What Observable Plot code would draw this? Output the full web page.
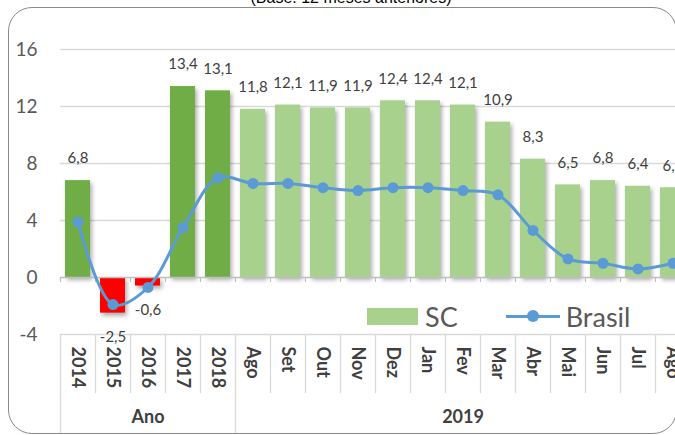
<!DOCTYPE html>
<html>
<head>
<meta charset="utf-8">
<script src="https://cdn.jsdelivr.net/npm/d3@7"></script>
<script src="https://cdn.jsdelivr.net/npm/@observablehq/plot@0.6"></script>
<style>
  body { margin: 0; background: #fff; }
  #wrap { position: relative; width: 675px; height: 435px; overflow: hidden; font-family: Lato, "Open Sans", sans-serif; }
  #frame { position: absolute; left: 8px; top: 7px; width: 669px; height: 427px; border: 1.4px solid #8a8a8a; border-radius: 24px; box-sizing: border-box; }
  #title { position: absolute; left: 0; width: 702px; top: -10px; text-align: center; font-family: "Liberation Sans", Arial, sans-serif; font-size: 16px; line-height: 16px; color: #000; white-space: nowrap; }
  #chart { position: absolute; left: 0; top: 0; }
  #chart svg { overflow: visible; }
  .bars rect { filter: drop-shadow(2px 3px 2px rgba(0,0,0,0.32)); }
  #legend { position: absolute; left: 367px; top: 299px; height: 34px; display: flex; align-items: center; font-family: Lato, sans-serif; font-size: 27px; color: #595959; }
  .sw { width: 51px; height: 17px; background: #A9D18E; margin-right: 7px; }
  .ln { position: relative; width: 54px; height: 3px; background: #5B9BD5; margin-left: 48px; margin-right: 6px; }
  .ln::after { content: ""; position: absolute; left: 21px; top: -4.5px; width: 12px; height: 12px; border-radius: 50%; background: #5B9BD5; }
</style>
</head>
<body>
<div id="wrap">
  <div id="frame"></div>
  <div id="title">(Base: 12 meses anteriores)</div>
  <div id="chart"></div>
  <div id="legend"><div class="sw"></div><span>SC</span><div class="ln"></div><span>Brasil</span></div>
</div>
<script>
// ---- data ----
const periods = ["2014","2015","2016","2017","2018","Ago/18","Set/18","Out/18","Nov/18","Dez/18","Jan/19","Fev/19","Mar/19","Abr/19","Mai/19","Jun/19","Jul/19","Ago/19"];
const tickLabels = ["2014","2015","2016","2017","2018","Ago","Set","Out","Nov","Dez","Jan","Fev","Mar","Abr","Mai","Jun","Jul","Ago"];
const groups = ["Ano","Ano","Ano","Ano","Ano","2019","2019","2019","2019","2019","2019","2019","2019","2019","2019","2019","2019","2019"];
const scValues = [6.8,-2.5,-0.6,13.4,13.1,11.8,12.1,11.9,11.9,12.4,12.4,12.1,10.9,8.3,6.5,6.8,6.4,6.3];
const brasilValues = [3.9,-1.9,-0.7,3.5,7.0,6.6,6.6,6.3,6.1,6.3,6.3,6.1,5.8,3.3,1.3,1.0,0.6,1.0];
const yTicks = [-4,0,4,8,12,16];

// ---- build ----
const data = periods.map((p, i) => ({period: p, label: tickLabels[i], group: groups[i], sc: scValues[i], brasil: brasilValues[i]}));
const fmt = v => v.toFixed(1).replace(".", ",");
const barColor = d => d.group === "Ano" ? (d.sc < 0 ? "#FF0000" : "#70AD47") : "#A9D18E";
const groupNames = [...new Set(groups)];
const groupLabels = groupNames.map(g => {
  const m = data.filter(d => d.group === g);
  return {group: g, period: m[Math.floor(m.length / 2)].period};
});
const groupStarts = data.filter((d, i) => i === 0 || groups[i] !== groups[i - 1]);
const innerStarts = data.filter((d, i) => i !== 0 && groups[i] === groups[i - 1]);
const yMin = yTicks[0];

const step = 35;
const chart = Plot.plot({
  width: 675,
  height: 435,
  marginTop: 0, marginRight: 0, marginBottom: 2, marginLeft: 60,
  x: {type: "band", domain: periods, range: [60, 60 + step * periods.length], paddingInner: 0.28, paddingOuter: 0.14, axis: null},
  y: {domain: [yMin, 16], range: [334, 49], axis: null},
  color: {type: "identity"},
  style: {fontFamily: "Lato, sans-serif", background: "transparent", color: "#404040"},
  marks: [
    Plot.ruleY(yTicks.filter(t => t !== 0), {stroke: "#d9d9d9", strokeWidth: 1.3}),
    Plot.ruleX(groupStarts, {x: "period", dx: -step / 2, insetTop: 334, stroke: "#d9d9d9", strokeWidth: 1.3}),
    Plot.ruleX(innerStarts, {x: "period", dx: -step / 2, insetTop: 334, insetBottom: 40, stroke: "#d9d9d9", strokeWidth: 1.3}),
    Plot.barY(data, {x: "period", y: "sc", fill: barColor, className: "bars"}),
    Plot.ruleY([0], {stroke: "#bfbfbf", strokeWidth: 1.3}),
    Plot.ruleX(data, {x: "period", dx: -step / 2, y1: () => 0, y2: () => -0.35, stroke: "#bfbfbf", strokeWidth: 1.2}),
    Plot.line(data, {x: "period", y: "brasil", stroke: "#5B9BD5", strokeWidth: 3, curve: "catmull-rom"}),
    Plot.dot(data, {x: "period", y: "brasil", r: 5.5, fill: "#5B9BD5"}),
    Plot.text(data.filter(d => d.sc >= 0), {x: "period", y: "sc", text: d => fmt(d.sc), dy: -22, fontSize: 15, fill: "#404040"}),
    Plot.text(data.filter(d => d.sc < 0), {x: "period", y: "sc", text: d => fmt(d.sc), dy: 24, fontSize: 15, fill: "#404040"}),
    Plot.text(yTicks, {y: d => d, frameAnchor: "left", textAnchor: "end", dx: -23, fontSize: 19, fill: "#595959"}),
    Plot.text(data, {x: "period", y: () => yMin, text: "label", rotate: 90, textAnchor: "start", dy: 12, fontSize: 18, fontWeight: "bold", fill: "#404040"}),
    Plot.text(groupLabels, {x: "period", frameAnchor: "bottom", text: "group", dy: -11, fontSize: 18, fontWeight: "bold", fill: "#404040"})
  ]
});
document.getElementById("chart").append(chart);
</script>
</body>
</html>
